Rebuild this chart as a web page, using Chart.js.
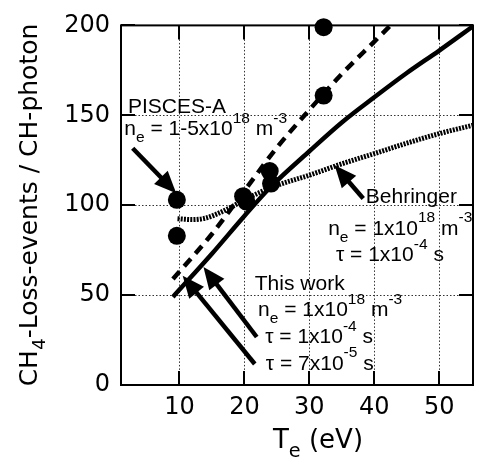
<!DOCTYPE html>
<html>
<head>
<meta charset="utf-8">
<script src="https://cdn.jsdelivr.net/npm/chart.js@4.4.1/dist/chart.umd.min.js"></script>
<style>
  html, body { margin: 0; padding: 0; background: #fff; overflow: hidden; }
  #wrap { position: relative; width: 482px; height: 458px; }
</style>
</head>
<body>
<div id="wrap"><canvas id="chart" width="482" height="458"></canvas></div>
<script>
// tick labels
const xTicks = [10, 20, 30, 40, 50];
const yTicks = [0, 50, 100, 150, 200];

// PISCES-A measurements (filled circles)
const piscesT = [9.6, 9.6, 19.8, 20.3, 23.9, 24.1, 32.2, 32.2];
const piscesY = [103, 83, 105, 102, 119, 112, 199, 161];

// This work, tau = 1x10^-4 s (solid)
const workSolidT = [9, 15, 20, 24, 30, 35, 40, 45, 50, 55.2];
const workSolidY = [49, 73, 94, 110, 130, 146, 160, 173.5, 186, 199.5];

// This work, tau = 7x10^-5 s (dashed)
const workDashT = [9, 15, 20, 25, 30, 35, 40, 42.5];
const workDashY = [59, 84, 108, 132, 153, 173, 191, 200];

// Behringer (dotted)
const behrT = [9.7, 12, 14, 16, 18, 20, 22, 25, 30, 35, 40, 45, 50, 55.2];
const behrY = [92.5, 92, 92.8, 95.5, 99, 103, 106.5, 111, 116.7, 123, 128.7, 134.5, 139.8, 144.5];

const toPts = (xs, ys) => xs.map((x, i) => ({ x: x, y: ys[i] }));

const ANNO_FONT = "'Liberation Sans', Arial, sans-serif";
const AXIS_FONT = "'DejaVu Sans', sans-serif";

// draw text made of parts: [text, 'n' | 'sub' | 'sup']
function richWidth(ctx, parts, size, family) {
    let w = 0;
    for (const [t, m] of parts) {
        const s = m === 'n' ? size : size * 0.74;
        ctx.font = s + 'px ' + family;
        w += ctx.measureText(t).width;
    }
    return w;
}
function richText(ctx, x, y, parts, size, family) {
    let cx = x;
    ctx.textAlign = 'left';
    ctx.textBaseline = 'alphabetic';
    for (const [t, m] of parts) {
        const s = m === 'n' ? size : size * 0.74;
        const dy = m === 'sub' ? size * 0.33 : m === 'sup' ? -size * 0.6 : 0;
        ctx.font = s + 'px ' + family;
        ctx.fillText(t, cx, y + dy);
        cx += ctx.measureText(t).width;
    }
}

function arrow(ctx, x1, y1, x2, y2) {
    const ang = Math.atan2(y2 - y1, x2 - x1);
    const hl = 22, hw = 9.5;
    const bx = x2 - Math.cos(ang) * hl, by = y2 - Math.sin(ang) * hl;
    ctx.lineWidth = 4.5;
    ctx.beginPath();
    ctx.moveTo(x1, y1);
    ctx.lineTo(bx + Math.cos(ang) * 2, by + Math.sin(ang) * 2);
    ctx.stroke();
    ctx.beginPath();
    ctx.moveTo(x2, y2);
    ctx.lineTo(bx + Math.sin(ang) * hw, by - Math.cos(ang) * hw);
    ctx.lineTo(bx - Math.sin(ang) * hw, by + Math.cos(ang) * hw);
    ctx.closePath();
    ctx.fill();
}

const notes = [
    { x: 2.06, y: 151.3, parts: [['PISCES-A', 'n']] },
    { x: 1.5, y: 138.9, parts: [['n', 'n'], ['e', 'sub'], [' = 1-5x10', 'n'], ['18', 'sup'], [' m', 'n'], ['-3', 'sup']] },
    { x: 38.7, y: 101.0, parts: [['Behringer', 'n']] },
    { x: 32.9, y: 83.5, parts: [['n', 'n'], ['e', 'sub'], [' = 1x10', 'n'], ['18', 'sup'], [' m', 'n'], ['-3', 'sup']] },
    { x: 34.1, y: 68.9, parts: [['\u03c4 = 1x10', 'n'], ['-4', 'sup'], [' s', 'n']] },
    { x: 21.6, y: 52.8, parts: [['This work', 'n']] },
    { x: 22.1, y: 38.3, parts: [['n', 'n'], ['e', 'sub'], [' = 1x10', 'n'], ['18', 'sup'], [' m', 'n'], ['-3', 'sup']] },
    { x: 23.2, y: 23.1, parts: [['\u03c4 = 1x10', 'n'], ['-4', 'sup'], [' s', 'n']] },
    { x: 23.3, y: 8.3, parts: [['\u03c4 = 7x10', 'n'], ['-5', 'sup'], [' s', 'n']] }
];

const arrows = [
    [2.8, 131.7, 9.5, 106.7],
    [38.3, 103.7, 33.9, 122.2],
    [21.9, 26.7, 13.7, 65.6],
    [21.6, 11.7, 10.5, 60.8]
];

const decorPlugin = {
    id: 'decor',
    afterDraw(chart) {
        const ctx = chart.ctx;
        const a = chart.chartArea;
        const xs = chart.scales.x, ys = chart.scales.y;
        ctx.save();
        ctx.strokeStyle = '#000';
        ctx.fillStyle = '#000';
        ctx.setLineDash([]);
        // frame
        ctx.lineWidth = 2;
        ctx.strokeRect(a.left, a.top, a.right - a.left, a.bottom - a.top);
        // inner ticks
        const tl = 14;
        ctx.beginPath();
        xTicks.forEach(v => {
            const px = Math.round(xs.getPixelForValue(v));
            ctx.moveTo(px, a.bottom); ctx.lineTo(px, a.bottom - tl);
            ctx.moveTo(px, a.top); ctx.lineTo(px, a.top + tl);
        });
        yTicks.forEach(v => {
            const py = Math.round(ys.getPixelForValue(v));
            ctx.moveTo(a.left, py); ctx.lineTo(a.left + tl, py);
            ctx.moveTo(a.right, py); ctx.lineTo(a.right - tl, py);
        });
        ctx.stroke();

        // axis titles
        const xt = [['T', 'n'], ['e', 'sub'], [' (eV)', 'n']];
        const xw = richWidth(ctx, xt, 26, AXIS_FONT);
        richText(ctx, 318 - xw / 2, 448, xt, 26, AXIS_FONT);

        const yt = [['CH', 'n'], ['4', 'sub'], ['-Loss-events / CH-photon', 'n']];
        const yw = richWidth(ctx, yt, 25, AXIS_FONT);
        ctx.save();
        ctx.translate(37, 205);
        ctx.rotate(-Math.PI / 2);
        richText(ctx, -yw / 2, 0, yt, 25, AXIS_FONT);
        ctx.restore();

        // annotations
        notes.forEach(n => {
            richText(ctx, xs.getPixelForValue(n.x), ys.getPixelForValue(n.y), n.parts, 21, ANNO_FONT);
        });
        arrows.forEach(r => {
            arrow(ctx, xs.getPixelForValue(r[0]), ys.getPixelForValue(r[1]),
                xs.getPixelForValue(r[2]), ys.getPixelForValue(r[3]));
        });
        ctx.restore();
    }
};

const ctx = document.getElementById('chart').getContext('2d');
new Chart(ctx, {
    type: 'scatter',
    data: {
        datasets: [
            {
                data: toPts(behrT, behrY),
                showLine: true,
                borderColor: '#000',
                borderWidth: 5,
                borderDash: [2, 1.2],
                pointRadius: 0,
                cubicInterpolationMode: 'monotone'
            },
            {
                data: toPts(workDashT, workDashY),
                showLine: true,
                borderColor: '#000',
                borderWidth: 4.5,
                borderDash: [10, 7],
                pointRadius: 0,
                cubicInterpolationMode: 'monotone'
            },
            {
                data: toPts(workSolidT, workSolidY),
                showLine: true,
                borderColor: '#000',
                borderWidth: 4.5,
                pointRadius: 0,
                cubicInterpolationMode: 'monotone'
            },
            {
                data: toPts(piscesT, piscesY),
                showLine: false,
                pointRadius: 9,
                pointBackgroundColor: '#000',
                pointBorderWidth: 0,
                clip: false
            }
        ]
    },
    options: {
        responsive: false,
        animation: false,
        events: [],
        layout: { padding: { top: 25, right: 3, left: 0, bottom: 0 } },
        plugins: { legend: { display: false }, tooltip: { enabled: false } },
        scales: {
            x: {
                type: 'linear',
                min: 1,
                max: 55.2,
                afterBuildTicks: s => { s.ticks = xTicks.map(v => ({ value: v })); },
                afterFit: s => { s.height = 73; },
                ticks: { color: '#000', font: { family: AXIS_FONT, size: 24 }, padding: 8, maxRotation: 0, autoSkip: false },
                grid: { color: '#333', lineWidth: 1, drawTicks: false },
                border: { display: false, dash: [1.5, 2] }
            },
            y: {
                type: 'linear',
                min: 0,
                max: 200,
                afterBuildTicks: s => { s.ticks = yTicks.map(v => ({ value: v })); },
                afterFit: s => { s.width = 121; },
                ticks: { color: '#000', font: { family: AXIS_FONT, size: 24 }, padding: 11, autoSkip: false },
                grid: { color: '#333', lineWidth: 1, drawTicks: false },
                border: { display: false, dash: [1.5, 2] }
            }
        }
    },
    plugins: [decorPlugin]
});
</script>
</body>
</html>
